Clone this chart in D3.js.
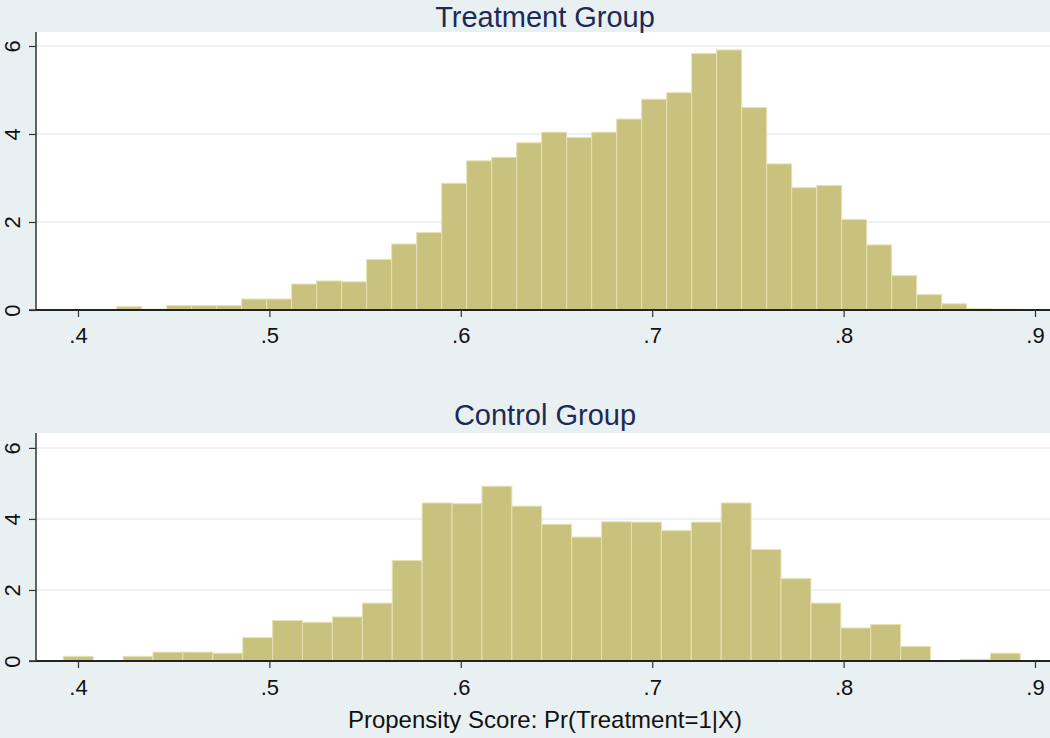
<!DOCTYPE html>
<html>
<head>
<meta charset="utf-8">
<script src="https://cdn.jsdelivr.net/npm/d3@7"></script>
<style>
  html, body { margin: 0; padding: 0; background: #e9f0f2; }
  svg { display: block; font-family: "Liberation Sans", Arial, sans-serif; }
</style>
</head>
<body>
<svg id="chart" width="1050" height="738"></svg>
<script>
// ---- data ----
const panelTitles = ["Treatment Group", "Control Group"];
const xAxisTitle = "Propensity Score: Pr(Treatment=1|X)";
const xTickValues = [0.4, 0.5, 0.6, 0.7, 0.8, 0.9];
const yTickValues = [0, 2, 4, 6];

// Treatment group histogram (density)
const treatBinStart = 0.4202;
const treatBinWidth = 0.013062;
const treatDensity = [
  0.075, 0.02, 0.10, 0.10, 0.10, 0.25, 0.25, 0.59, 0.66, 0.64,
  1.15, 1.50, 1.76, 2.88, 3.39, 3.47, 3.80, 4.04, 3.92, 4.04,
  4.34, 4.79, 4.94, 5.83, 5.91, 4.60, 3.32, 2.78, 2.83, 2.06,
  1.48, 0.78, 0.35, 0.14, 0.03, 0.02
];

// Control group histogram (density)
const ctrlBinStart = 0.3923;
const ctrlBinWidth = 0.015625;
const ctrlDensity = [
  0.13, 0.00, 0.13, 0.25, 0.25, 0.22, 0.66, 1.14, 1.09, 1.24,
  1.63, 2.83, 4.45, 4.43, 4.92, 4.36, 3.85, 3.49, 3.92, 3.91,
  3.67, 3.91, 4.45, 3.14, 2.32, 1.63, 0.93, 1.03, 0.41, 0.00,
  0.05, 0.22
];

// ---- drawing ----
const svg = d3.select("#chart");
const W = 1050, H = 738;
const bg = "#e9f0f2", barFill = "#c9c27e", barStroke = "#e6e2b4";
const titleColor = "#1d2a57", grid = "#e6eef0";
const FONT = "'Liberation Sans', Arial, sans-serif";

svg.append("rect").attr("width", W).attr("height", H).attr("fill", bg);

const x = d3.scaleLinear().domain([0.37806, 0.90784]).range([36, 1050]);

const panels = [
  { title: panelTitles[0], start: treatBinStart, width: treatBinWidth, vals: treatDensity,
    top: 32, bottom: 310, ymax: 6.318, titleY: 27, tickLabelY: 343 },
  { title: panelTitles[1], start: ctrlBinStart, width: ctrlBinWidth, vals: ctrlDensity,
    top: 433, bottom: 661, ymax: 6.42, titleY: 425, tickLabelY: 695 }
];

panels.forEach(p => {
  const y = d3.scaleLinear().domain([0, p.ymax]).range([p.bottom, p.top]);
  const g = svg.append("g");

  // plot region
  g.append("rect")
    .attr("x", x.range()[0]).attr("y", p.top)
    .attr("width", x.range()[1] - x.range()[0]).attr("height", p.bottom - p.top)
    .attr("fill", "#ffffff");

  // gridlines
  g.selectAll("line.grid").data(yTickValues.filter(v => v > 0)).join("line")
    .attr("class", "grid")
    .attr("x1", x.range()[0]).attr("x2", x.range()[1])
    .attr("y1", d => y(d)).attr("y2", d => y(d))
    .attr("stroke", grid).attr("stroke-width", 1.5);

  // bars
  const bins = p.vals.map((v, i) => ({ x0: p.start + i * p.width, x1: p.start + (i + 1) * p.width, v }));
  g.selectAll("rect.bar").data(bins.filter(b => b.v > 0)).join("rect")
    .attr("class", "bar")
    .attr("x", d => x(d.x0)).attr("width", d => x(d.x1) - x(d.x0))
    .attr("y", d => y(d.v)).attr("height", d => y(0) - y(d.v))
    .attr("fill", barFill).attr("stroke", barStroke).attr("stroke-width", 1);

  // y axis
  const yAxis = d3.axisLeft(y).tickValues(yTickValues).tickSize(7).tickFormat(d3.format("d"));
  const ya = g.append("g").attr("transform", `translate(${x.range()[0]},0)`).call(yAxis);
  ya.select(".domain").attr("stroke", "#333").attr("stroke-width", 1.5)
    .attr("d", `M-7,${p.bottom}H0V${p.top}`);
  ya.selectAll(".tick line").attr("stroke", "#333").attr("stroke-width", 1.2);
  ya.selectAll(".tick text")
    .attr("x", null).attr("dy", null)
    .attr("transform", "translate(-16,0) rotate(-90)")
    .attr("text-anchor", "middle")
    .attr("font-size", 22).attr("fill", "#111")
    .attr("font-family", FONT);

  // x axis
  const xAxis = d3.axisBottom(x).tickValues(xTickValues).tickSize(7)
    .tickFormat(d => d3.format(".1f")(d).replace(/^0/, ""));
  const xa = g.append("g").attr("transform", `translate(0,${p.bottom})`).call(xAxis);
  xa.select(".domain").attr("stroke", "#222").attr("stroke-width", 2)
    .attr("d", `M${x.range()[0]},0H${x.range()[1]}`);
  xa.selectAll(".tick line").attr("stroke", "#333").attr("stroke-width", 1.2);
  xa.selectAll(".tick text")
    .attr("y", p.tickLabelY - p.bottom).attr("dy", null)
    .attr("font-size", 22).attr("fill", "#111")
    .attr("font-family", FONT);

  // title
  svg.append("text")
    .attr("x", 545).attr("y", p.titleY)
    .attr("text-anchor", "middle")
    .attr("font-size", 29).attr("fill", titleColor)
    .text(p.title);
});

svg.append("text")
  .attr("x", 545).attr("y", 728)
  .attr("text-anchor", "middle")
  .attr("font-size", 24).attr("fill", "#111")
  .text(xAxisTitle);
</script>
</body>
</html>
